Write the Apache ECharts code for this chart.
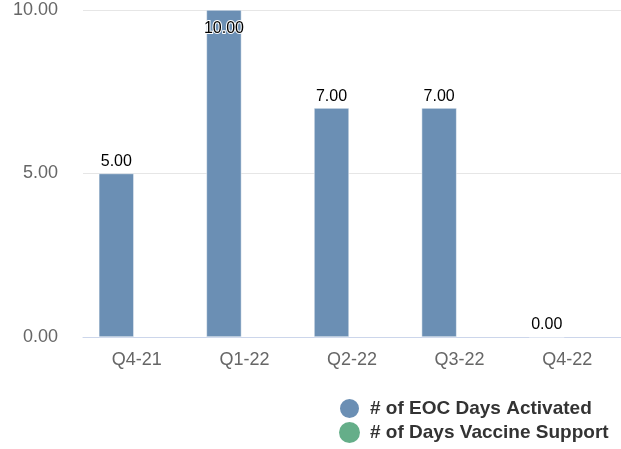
<!DOCTYPE html>
<html>
<head>
<meta charset="utf-8">
<style>
html, body { margin: 0; padding: 0; background: #fff; }
#chart { width: 621px; height: 449px; }
</style>
<script src="https://cdn.jsdelivr.net/npm/echarts@6/dist/echarts.min.js"></script>
</head>
<body>
<div id="chart"></div>
<script>
var quarters = ['Q4-21', 'Q1-22', 'Q2-22', 'Q3-22', 'Q4-22'];
var eocDays = [5, 10, 7, 7, 0];
var vaccineDays = [null, null, null, null, null];
var seriesNames = ['# of EOC Days Activated', '# of Days Vaccine Support'];

var font = 'Liberation Sans, Arial, sans-serif';
var chart = echarts.init(document.getElementById('chart'));

// bar that touches the top gets its label inside, like the original
var eocData = eocDays.map(function (v) {
    if (v >= 10) {
        return { value: v, label: { position: 'insideTop', distance: 11, textBorderColor: '#fff', textBorderWidth: 2 } };
    }
    return v;
});

var option = {
    animation: false,
    textStyle: { fontFamily: font },
    grid: { left: 83, right: 0, top: 10, bottom: 112 },
    legend: {
        orient: 'vertical',
        left: 338,
        top: 397,
        padding: 0,
        itemWidth: 21,
        itemHeight: 21,
        itemGap: 2,
        icon: 'circle',
        textStyle: {
            fontSize: 19, fontWeight: 'bold', color: '#333', fontFamily: font,
            lineHeight: 21, padding: [0, 0, 0, 5]
        },
        data: seriesNames
    },
    xAxis: {
        type: 'category',
        data: quarters,
        axisLine: { lineStyle: { color: '#ccd6eb', width: 1 } },
        axisTick: { show: false },
        axisLabel: { color: '#666', fontSize: 18, margin: 14, fontFamily: font }
    },
    yAxis: {
        type: 'value',
        min: 0,
        max: 10,
        interval: 5,
        axisLine: { show: false },
        axisTick: { show: false },
        splitLine: { lineStyle: { color: '#e6e6e6', width: 1 } },
        axisLabel: {
            color: '#666', fontSize: 18, margin: 25, fontFamily: font,
            formatter: function (v) { return v.toFixed(2); }
        }
    },
    series: [
        {
            name: seriesNames[0],
            type: 'bar',
            data: eocData,
            barWidth: 35,
            barGap: '17%',
            itemStyle: { color: '#6b8fb4', borderColor: '#fff', borderWidth: 0.5 },
            label: {
                show: true,
                position: 'top',
                distance: 4,
                color: '#000',
                fontSize: 16,
                fontFamily: font,
                formatter: function (p) { return p.value.toFixed(2); }
            }
        },
        {
            name: seriesNames[1],
            type: 'bar',
            data: vaccineDays,
            barWidth: 35,
            itemStyle: { color: '#65ae89' }
        }
    ]
};

chart.setOption(option);
</script>
</body>
</html>
